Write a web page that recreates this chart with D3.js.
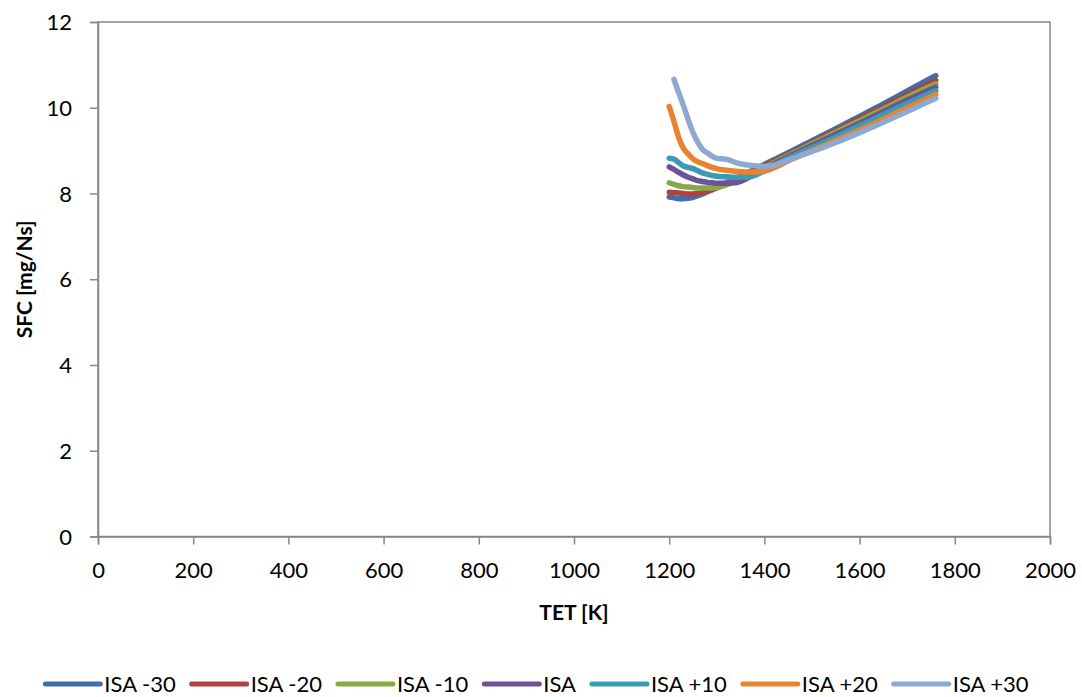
<!DOCTYPE html>
<html>
<head>
<meta charset="utf-8">
<script src="https://cdn.jsdelivr.net/npm/d3@7"></script>
<style>
  html, body { margin: 0; padding: 0; background: #fff; }
  svg { display: block; font-family: Lato, "Open Sans", sans-serif; }
</style>
</head>
<body>
<svg id="chart" width="1082" height="697"></svg>
<script>
// ---- Data ----
const tet = [1200,1210,1220,1230,1240,1250,1260,1270,1280,1290,1300,1320,1340,1360,1380,1400,1420,1450,1500,1550,1600,1650,1700,1760];
const isaM30 = [7.92,7.90,7.88,7.88,7.89,7.91,7.95,7.99,8.04,8.09,8.14,8.25,8.35,8.46,8.57,8.68,8.79,8.95,9.23,9.51,9.80,10.09,10.39,10.75];
const isaM20 = [8.03,8.02,8.01,8.00,7.99,7.99,8.00,8.02,8.05,8.09,8.13,8.22,8.32,8.43,8.54,8.65,8.76,8.92,9.19,9.47,9.75,10.03,10.31,10.64];
const isaM10 = [8.25,8.21,8.18,8.16,8.15,8.14,8.13,8.13,8.13,8.13,8.14,8.20,8.29,8.39,8.50,8.61,8.72,8.89,9.16,9.43,9.70,9.97,10.25,10.56];
const isa0   = [8.62,8.56,8.49,8.43,8.38,8.34,8.30,8.28,8.26,8.25,8.24,8.24,8.25,8.33,8.45,8.57,8.69,8.86,9.12,9.38,9.64,9.91,10.18,10.48];
const isaP10 = [8.82,8.80,8.72,8.64,8.61,8.58,8.53,8.48,8.45,8.42,8.40,8.39,8.38,8.38,8.42,8.53,8.65,8.82,9.07,9.32,9.58,9.84,10.10,10.40];
const isaP20 = [10.03,9.68,9.30,9.05,8.92,8.81,8.74,8.70,8.65,8.61,8.58,8.54,8.52,8.50,8.50,8.52,8.60,8.76,9.00,9.24,9.48,9.74,10.00,10.31];
const isaP30 = [null,10.66,10.35,10.05,9.72,9.42,9.20,9.03,8.95,8.87,8.82,8.80,8.72,8.67,8.65,8.63,8.66,8.78,8.98,9.19,9.42,9.66,9.91,10.22];

const seriesNames = ["ISA -30","ISA -20","ISA -10","ISA","ISA +10","ISA +20","ISA +30"];
const seriesValues = [isaM30, isaM20, isaM10, isa0, isaP10, isaP20, isaP30];
const seriesColors = ["#3F6FAE","#AD4340","#88A94A","#6E5296","#3A9BB4","#E8832F","#8DA8D1"];

const xTicks = [0,200,400,600,800,1000,1200,1400,1600,1800,2000];
const yTicks = [0,2,4,6,8,10,12];
const xTitle = "TET [K]";
const yTitle = "SFC [mg/Ns]";

// ---- Layout ----
const svg = d3.select("#chart");
const L = 98, R = 1050, T = 22, B = 536.5;
const x = d3.scaleLinear().domain([0, 2000]).range([L, R]);
const y = d3.scaleLinear().domain([0, 12]).range([B, T]);
const axisColor = "#878787";

// plot border
svg.append("rect").attr("x", L).attr("y", T).attr("width", R - L).attr("height", B - T)
  .attr("fill", "none").attr("stroke", axisColor).attr("stroke-width", 1.5);

// axes
const xAxis = svg.append("g").attr("transform", `translate(0,${B})`)
  .call(d3.axisBottom(x).tickValues(xTicks).tickSize(8).tickPadding(18).tickFormat(d3.format("d")));
const yAxis = svg.append("g").attr("transform", `translate(${L},0)`)
  .call(d3.axisLeft(y).tickValues(yTicks).tickSize(8).tickPadding(18).tickFormat(d3.format("d")));
[xAxis, yAxis].forEach(g => {
  g.select(".domain").attr("stroke", axisColor).attr("stroke-width", 1.5);
  g.selectAll(".tick line").attr("stroke", axisColor).attr("stroke-width", 1.5);
  g.selectAll(".tick text").attr("fill", "#000").style("font-size", "22px")
    .style("font-family", "Lato, 'Open Sans', sans-serif");
});
yAxis.selectAll(".tick text").attr("dy", "0.35em");

// axis titles
svg.append("text").attr("x", (L + R) / 2).attr("y", 620).attr("text-anchor", "middle")
  .style("font-size", "21px").style("font-weight", "bold").text(xTitle);
svg.append("text").attr("transform", `translate(32,${(T + B) / 2}) rotate(-90)`)
  .attr("text-anchor", "middle").style("font-size", "21px").style("font-weight", "bold").text(yTitle);

// lines
const line = d3.line()
  .defined(d => d[1] !== null)
  .x(d => x(d[0])).y(d => y(d[1]))
  .curve(d3.curveMonotoneX);

seriesValues.forEach((vals, i) => {
  const pts = tet.map((t, j) => [t, vals[j]]);
  svg.append("path").datum(pts)
    .attr("fill", "none").attr("stroke", seriesColors[i])
    .attr("stroke-width", 5.5).attr("stroke-linecap", "round").attr("stroke-linejoin", "round")
    .attr("d", line);
});

// legend
const legend = svg.append("g");
let cx = 0;
const swatch = 55, gapSw = 4, gapItem = 16, ly = 684;
seriesNames.forEach((name, i) => {
  const g = legend.append("g").attr("transform", `translate(${cx},0)`);
  g.append("line").attr("x1", 0).attr("x2", swatch).attr("y1", ly).attr("y2", ly)
    .attr("stroke", seriesColors[i]).attr("stroke-width", 5).attr("stroke-linecap", "round");
  const t = g.append("text").attr("x", swatch + gapSw).attr("y", ly).attr("dy", "0.35em")
    .style("font-size", "22px").text(name);
  cx += swatch + gapSw + t.node().getComputedTextLength() + gapItem;
});
const totalW = cx - gapItem;
legend.attr("transform", `translate(${(1082 - totalW) / 2 - 4},0)`);
</script>
</body>
</html>
